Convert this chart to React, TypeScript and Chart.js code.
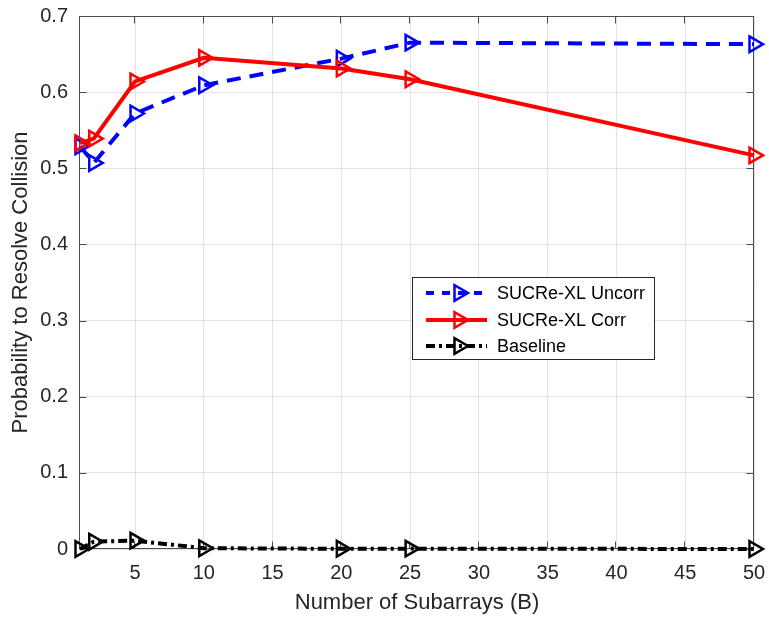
import React, { useEffect, useRef } from "react";
import { Chart, registerables } from "chart.js";

Chart.register(...registerables);

// ---- data ----
const subarrays = [1, 2, 5, 10, 20, 25, 50];
const uncorrValues = [0.529, 0.507, 0.572, 0.609, 0.644, 0.665, 0.663];
const corrValues = [0.533, 0.539, 0.614, 0.645, 0.631, 0.617, 0.517];
const baselineValues = [0, 0.0096, 0.011, 0.001, 0.0003, 0.0005, 0];
const xTickValues = [5, 10, 15, 20, 25, 30, 35, 40, 45, 50];
const yTickValues = [0, 0.1, 0.2, 0.3, 0.4, 0.5, 0.6, 0.7];
const seriesNames = ["SUCRe-XL Uncorr", "SUCRe-XL Corr", "Baseline"];
const xTitle = "Number of Subarrays (B)";
const yTitle = "Probability to Resolve Collision";

const FONT = "'Liberation Sans', Arial, Helvetica, sans-serif";
const AXIS_COLOR = "#262626";
const BOX_COLOR = "#4d4d4d";
const GRID_COLOR = "#e3e3e3";

const toPoints = (ys: number[]) => subarrays.map((x, i) => ({ x, y: ys[i] }));

function drawTriangle(ctx: CanvasRenderingContext2D, x: number, y: number, r: number) {
  let rad = Math.PI / 2;
  ctx.beginPath();
  ctx.moveTo(x + Math.sin(rad) * r, y - Math.cos(rad) * r);
  rad += (2 * Math.PI) / 3;
  ctx.lineTo(x + Math.sin(rad) * r, y - Math.cos(rad) * r);
  rad += (2 * Math.PI) / 3;
  ctx.lineTo(x + Math.sin(rad) * r, y - Math.cos(rad) * r);
  ctx.closePath();
  ctx.stroke();
}

const framePlugin = {
  id: "matlabFrame",
  beforeDatasetsDraw(chart: any) {
    const { ctx, chartArea: a, scales } = chart;
    const xs = scales.x;
    const ys = scales.y;
    ctx.save();
    ctx.strokeStyle = BOX_COLOR;
    ctx.lineWidth = 1;
    const L = Math.round(a.left) - 0.5;
    const R = Math.round(a.right) - 0.5;
    const T = Math.round(a.top) + 0.5;
    const B = Math.round(a.bottom) - 0.5;
    ctx.strokeRect(L, T, R - L, B - T);
    const tl = 7;
    ctx.beginPath();
    for (const v of xTickValues) {
      const px = Math.round(xs.getPixelForValue(v)) - 0.5;
      ctx.moveTo(px, B);
      ctx.lineTo(px, B - tl);
      ctx.moveTo(px, T);
      ctx.lineTo(px, T + tl);
    }
    for (const v of yTickValues) {
      const py = Math.round(ys.getPixelForValue(v)) + 0.5;
      ctx.moveTo(L, py);
      ctx.lineTo(L + tl, py);
      ctx.moveTo(R, py);
      ctx.lineTo(R - tl, py);
    }
    ctx.stroke();
    ctx.restore();
  },
};

const legendPlugin = {
  id: "matlabLegend",
  afterDraw(chart: any) {
    const { ctx } = chart;
    const box = { x: 412.5, y: 277.5, w: 242, h: 82 };
    ctx.save();
    ctx.fillStyle = "#ffffff";
    ctx.fillRect(box.x, box.y, box.w, box.h);
    ctx.strokeStyle = AXIS_COLOR;
    ctx.lineWidth = 1;
    ctx.strokeRect(box.x, box.y, box.w, box.h);
    const rows = [293, 320, 346];
    chart.data.datasets.forEach((ds: any, i: number) => {
      const y = rows[i];
      ctx.save();
      ctx.strokeStyle = ds.borderColor;
      ctx.lineWidth = ds.borderWidth;
      ctx.setLineDash(ds.legendDash || []);
      ctx.beginPath();
      ctx.moveTo(426, y);
      ctx.lineTo(487, y);
      ctx.stroke();
      ctx.setLineDash([]);
      ctx.lineWidth = ds.pointBorderWidth;
      ctx.strokeStyle = ds.pointBorderColor;
      drawTriangle(ctx, 459, y, ds.pointRadius);
      ctx.restore();
      ctx.fillStyle = "#000000";
      ctx.font = `18px ${FONT}`;
      ctx.textBaseline = "middle";
      ctx.textAlign = "left";
      ctx.fillText(seriesNames[i], 497, y + 1);
    });
    ctx.restore();
  },
};

export default function App() {
  const ref = useRef<HTMLCanvasElement>(null);

  useEffect(() => {
    if (!ref.current) return;
    const common = {
      pointStyle: "triangle",
      pointRotation: 90,
      pointRadius: 9,
      pointHoverRadius: 9,
      pointBorderWidth: 2.5,
      pointBackgroundColor: "rgba(0,0,0,0)",
      tension: 0,
      clip: false as any,
      fill: false,
    };
    const chart = new Chart(ref.current, {
      type: "line",
      data: {
        datasets: [
          {
            ...common,
            label: seriesNames[0],
            data: toPoints(uncorrValues),
            borderColor: "#0000ff",
            pointBorderColor: "#0000ff",
            borderWidth: 4,
            borderDash: [14, 9],
            legendDash: [8, 8],
            order: 3,
          } as any,
          {
            ...common,
            label: seriesNames[1],
            data: toPoints(corrValues),
            borderColor: "#ff0000",
            pointBorderColor: "#ff0000",
            borderWidth: 4,
            order: 2,
          } as any,
          {
            ...common,
            label: seriesNames[2],
            data: toPoints(baselineValues),
            borderColor: "#000000",
            pointBorderColor: "#000000",
            borderWidth: 4,
            borderDash: [9, 4, 3, 4],
            legendDash: [9, 4, 3, 4],
            order: 1,
          } as any,
        ],
      },
      options: {
        responsive: false,
        animation: false,
        events: [],
        layout: { padding: { left: 0, top: 16, right: 15, bottom: 0 } },
        plugins: {
          legend: { display: false },
          tooltip: { enabled: false },
        },
        scales: {
          x: {
            type: "linear",
            min: 1,
            max: 50,
            afterBuildTicks: (s: any) => {
              s.ticks = xTickValues.map((v) => ({ value: v }));
            },
            afterFit: (s: any) => {
              s.height = 68;
              s.paddingLeft = 0;
              s.paddingRight = 0;
            },
            grid: { color: GRID_COLOR, lineWidth: 1, drawTicks: false },
            border: { display: false },
            ticks: {
              padding: 12,
              color: AXIS_COLOR,
              font: { family: FONT, size: 20 },
              maxRotation: 0,
              autoSkip: false,
              callback: (v: any) => String(v),
            },
            title: {
              display: true,
              text: xTitle,
              color: AXIS_COLOR,
              font: { family: FONT, size: 22 },
              padding: { top: 0, bottom: 1 },
            },
          },
          y: {
            type: "linear",
            min: 0,
            max: 0.7,
            afterBuildTicks: (s: any) => {
              s.ticks = yTickValues.map((v) => ({ value: v }));
            },
            afterFit: (s: any) => {
              s.width = 80;
              s.paddingTop = 0;
              s.paddingBottom = 0;
            },
            grid: { color: GRID_COLOR, lineWidth: 1, drawTicks: false },
            border: { display: false },
            ticks: {
              padding: 12,
              color: AXIS_COLOR,
              font: { family: FONT, size: 20 },
              autoSkip: false,
              callback: (v: any) => (Number(v) === 0 ? "0" : Number(v).toFixed(1)),
            },
            title: {
              display: true,
              text: yTitle,
              color: AXIS_COLOR,
              font: { family: FONT, size: 22 },
              padding: { top: 8, bottom: 0 },
            },
          },
        },
      },
      plugins: [framePlugin, legendPlugin],
    });
    return () => chart.destroy();
  }, []);

  return (
    <div
      style={{
        position: "absolute",
        left: 0,
        top: 0,
        width: 769,
        height: 617,
        background: "#ffffff",
      }}
    >
      <canvas ref={ref} width={769} height={617} style={{ display: "block", width: 769, height: 617 }} />
    </div>
  );
}
